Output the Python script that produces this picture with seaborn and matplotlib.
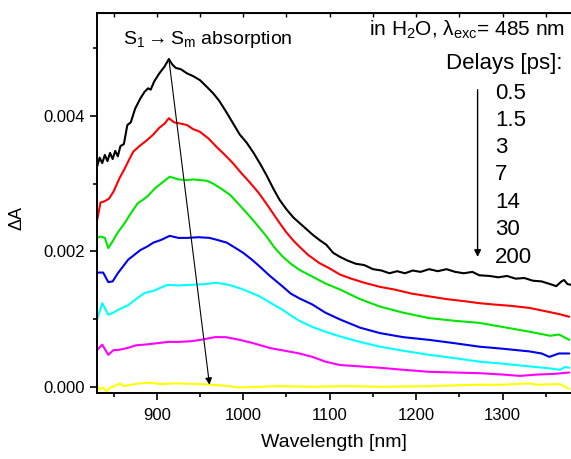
import numpy as np
import pandas as pd
import seaborn as sns
import matplotlib.pyplot as plt

# ---- data (dA in units of 1e-3) ----
delays = ["0.5", "1.5", "3", "7", "14", "30", "200"]
colors = ["black", "red", "#00e600", "#0000ee", "cyan", "magenta", "yellow"]

wl_05 = [831, 834, 837, 840, 843, 846, 849, 852, 855, 858, 862, 866, 870, 875, 881, 886, 890, 893, 897, 903,
         909, 914, 918, 922, 928, 935, 942, 950, 958, 965, 972, 980, 988, 996, 1004, 1012, 1020, 1027, 1035,
         1042, 1050, 1058, 1065, 1073, 1080, 1088, 1096, 1104, 1112, 1120, 1130, 1140, 1150, 1160, 1169, 1178,
         1187, 1196, 1205, 1215, 1225, 1235, 1245, 1255, 1265, 1273, 1285, 1295, 1305, 1315, 1325, 1335, 1345,
         1355, 1362, 1368, 1371, 1375, 1379]
da_05 = [3.25, 3.38, 3.30, 3.42, 3.33, 3.45, 3.36, 3.48, 3.40, 3.55, 3.58, 3.86, 3.90, 4.10, 4.25, 4.35, 4.40,
         4.38, 4.50, 4.62, 4.72, 4.83, 4.75, 4.70, 4.68, 4.62, 4.58, 4.52, 4.42, 4.33, 4.22, 4.06, 3.89, 3.72,
         3.60, 3.45, 3.28, 3.12, 2.92, 2.76, 2.62, 2.50, 2.42, 2.33, 2.25, 2.17, 2.10, 1.98, 1.92, 1.87, 1.82,
         1.80, 1.74, 1.72, 1.68, 1.71, 1.68, 1.72, 1.70, 1.74, 1.71, 1.74, 1.70, 1.68, 1.70, 1.65, 1.64, 1.62,
         1.64, 1.60, 1.61, 1.57, 1.56, 1.52, 1.49, 1.56, 1.58, 1.52, 1.51]

wl_15 = [831, 835, 840, 845, 850, 857, 863, 868, 873, 880, 889, 896, 903, 909, 914, 920, 928, 935, 942, 950,
         960, 969, 978, 988, 998, 1008, 1018, 1027, 1035, 1042, 1050, 1058, 1065, 1075, 1088, 1100, 1112, 1125,
         1140, 1158, 1175, 1195, 1215, 1235, 1255, 1273, 1290, 1310, 1331, 1350, 1365, 1377]
da_15 = [2.46, 2.72, 2.74, 2.78, 2.88, 3.08, 3.22, 3.35, 3.47, 3.55, 3.64, 3.72, 3.82, 3.88, 3.96, 3.90, 3.88,
         3.86, 3.80, 3.76, 3.66, 3.54, 3.43, 3.30, 3.15, 3.01, 2.86, 2.70, 2.55, 2.42, 2.28, 2.16, 2.07, 1.95,
         1.83, 1.75, 1.66, 1.60, 1.54, 1.48, 1.44, 1.38, 1.34, 1.30, 1.27, 1.24, 1.22, 1.20, 1.17, 1.12, 1.08,
         1.04]

wl_3 = [831, 835, 840, 844, 849, 855, 863, 870, 878, 884, 890, 898, 905, 915, 925, 935, 942, 950, 958, 965,
        975, 985, 996, 1008, 1018, 1027, 1036, 1046, 1055, 1065, 1080, 1095, 1112, 1135, 1158, 1185, 1215,
        1245, 1273, 1300, 1331, 1355, 1365, 1377]
da_3 = [2.20, 2.22, 2.20, 2.05, 2.15, 2.28, 2.42, 2.56, 2.71, 2.76, 2.82, 2.93, 3.00, 3.10, 3.06, 3.05, 3.06,
        3.05, 3.04, 3.00, 2.92, 2.83, 2.68, 2.51, 2.36, 2.22, 2.06, 1.92, 1.82, 1.73, 1.63, 1.53, 1.44, 1.30,
        1.19, 1.10, 1.02, 0.98, 0.95, 0.89, 0.82, 0.76, 0.78, 0.70]

wl_7 = [831, 838, 844, 849, 855, 861, 867, 875, 881, 890, 896, 905, 915, 925, 935, 948, 961, 970, 981, 990,
        1000, 1010, 1019, 1030, 1046, 1055, 1065, 1080, 1095, 1112, 1135, 1158, 1185, 1215, 1245, 1273, 1300,
        1331, 1345, 1354, 1365, 1377]
da_7 = [1.69, 1.69, 1.55, 1.56, 1.68, 1.78, 1.88, 1.96, 2.02, 2.08, 2.13, 2.17, 2.23, 2.20, 2.20, 2.21, 2.20,
        2.17, 2.13, 2.06, 1.98, 1.88, 1.78, 1.65, 1.48, 1.38, 1.31, 1.22, 1.10, 1.00, 0.88, 0.80, 0.74, 0.70,
        0.65, 0.60, 0.57, 0.53, 0.50, 0.45, 0.50, 0.50]

wl_14 = [831, 837, 844, 850, 855, 867, 876, 886, 896, 905, 913, 925, 940, 955, 969, 983, 996, 1008, 1019,
         1032, 1046, 1056, 1065, 1080, 1095, 1112, 1135, 1158, 1185, 1215, 1245, 1273, 1300, 1331, 1355, 1366,
         1372, 1377]
da_14 = [1.00, 1.24, 1.07, 1.10, 1.14, 1.21, 1.30, 1.39, 1.42, 1.47, 1.51, 1.50, 1.51, 1.52, 1.54, 1.51, 1.46,
         1.40, 1.34, 1.24, 1.14, 1.05, 0.98, 0.89, 0.82, 0.75, 0.67, 0.60, 0.54, 0.48, 0.43, 0.38, 0.35, 0.31,
         0.28, 0.26, 0.30, 0.29]

wl_30 = [831, 837, 844, 850, 855, 866, 876, 886, 900, 913, 925, 940, 955, 967, 980, 996, 1012, 1031, 1048,
         1065, 1080, 1095, 1112, 1135, 1158, 1185, 1215, 1245, 1273, 1300, 1320, 1340, 1360, 1377]
da_30 = [0.55, 0.63, 0.48, 0.55, 0.55, 0.58, 0.62, 0.63, 0.65, 0.67, 0.67, 0.68, 0.71, 0.74, 0.74, 0.70, 0.65,
         0.58, 0.54, 0.50, 0.45, 0.38, 0.33, 0.31, 0.29, 0.26, 0.23, 0.22, 0.21, 0.19, 0.17, 0.19, 0.20, 0.22]

wl_200 = [831, 834, 838, 842, 846, 851, 857, 862, 870, 880, 892, 905, 920, 950, 975, 996, 1020, 1042, 1080,
          1120, 1160, 1215, 1245, 1273, 1300, 1331, 1340, 1366, 1377]
da_200 = [0.04, -0.03, 0.00, -0.06, 0.00, 0.02, 0.06, 0.02, 0.04, 0.06, 0.07, 0.05, 0.06, 0.05, 0.03, 0.00,
          0.01, 0.02, 0.01, 0.02, 0.01, 0.02, 0.03, 0.04, 0.04, 0.06, 0.04, 0.05, -0.02]

wls = [wl_05, wl_15, wl_3, wl_7, wl_14, wl_30, wl_200]
das = [da_05, da_15, da_3, da_7, da_14, da_30, da_200]

frames = []
for d, w, a in zip(delays, wls, das):
    frames.append(pd.DataFrame({"wl": w, "dA": np.array(a) * 1e-3, "delay": d}))
df = pd.concat(frames, ignore_index=True)

# ---- style ----
sns.set_style("ticks")
plt.rcParams['font.family'] = ['Liberation Sans', 'DejaVu Sans']
plt.rcParams['mathtext.fontset'] = 'custom'
plt.rcParams['mathtext.rm'] = 'Liberation Sans'
plt.rcParams['mathtext.it'] = 'Liberation Sans:italic'
for k in ['text.color', 'axes.labelcolor', 'xtick.color', 'ytick.color', 'axes.edgecolor']:
    plt.rcParams[k] = 'black'

fig = plt.figure(figsize=(5.71, 4.59), dpi=100)
ax = fig.add_axes([0.170, 0.144, 0.83, 0.828])

sns.lineplot(data=df, x="wl", y="dA", hue="delay", hue_order=delays, palette=colors,
             estimator=None, linewidth=1.5, legend=False, ax=ax)

ax.set_xlim(831, 1379)
ax.set_ylim(-0.00008, 0.00551)
ax.set_xticks([900, 1000, 1100, 1200, 1300])
ax.set_xticks(np.arange(850, 1380, 50), minor=True)
ax.set_yticks([0.000, 0.002, 0.004])
ax.set_yticklabels(["0.000", "0.002", "0.004"])
ax.set_yticks([0.001, 0.003, 0.005], minor=True)

ax.tick_params(axis='both', which='major', direction='out', length=5, width=1.2, labelsize=12, pad=4)
ax.tick_params(axis='both', which='minor', direction='out', length=3, width=1.2)
ax.tick_params(axis='x', which='major', pad=6)
ax.tick_params(axis='x', which='both', top=False)

for s in ['left', 'bottom', 'top']:
    ax.spines[s].set_linewidth(1.4)
ax.spines['right'].set_visible(False)

# inward ticks on the top spine
ax_top = ax.secondary_xaxis('top')
ax_top.set_xticks(np.arange(850, 1380, 50))
ax_top.tick_params(direction='in', length=3, width=1.0, labeltop=False)
ax_top.set_xticklabels([])

ax.set_xlabel("Wavelength [nm]", fontsize=14, labelpad=8)
ax.set_ylabel("ΔA", fontsize=13)
ax.yaxis.set_label_coords(-0.152, 0.46)

# ---- annotations ----
ax.text(0.055, 0.929, r"S$_1\rightarrow$S$_\mathrm{m}$ absorption", transform=ax.transAxes,
        fontsize=14, ha='left', va='center')
ax.annotate("", xy=(961, 0.00004), xytext=(914, 0.00483),
            arrowprops=dict(arrowstyle='-|>', color='black', lw=0.8, mutation_scale=10,
                            shrinkA=0, shrinkB=0))

ax.text(0.987, 0.955, r"in H$_2$O, λ$_\mathrm{exc}$= 485 nm", transform=ax.transAxes,
        fontsize=15, ha='right', va='center')
ax.text(0.983, 0.868, "Delays [ps]:", transform=ax.transAxes, fontsize=16, ha='right', va='center')
ys = [0.789, 0.718, 0.647, 0.574, 0.5, 0.429, 0.355]
for d, y in zip(delays, ys):
    ax.text(0.84, y, d, transform=ax.transAxes, fontsize=16, ha='left', va='center')
ax.annotate("", xy=(1271, 0.00192), xytext=(1271, 0.00438),
            arrowprops=dict(arrowstyle='-|>', color='black', lw=1.0, mutation_scale=10,
                            shrinkA=0, shrinkB=0))

fig.savefig("out.png", dpi=100)
